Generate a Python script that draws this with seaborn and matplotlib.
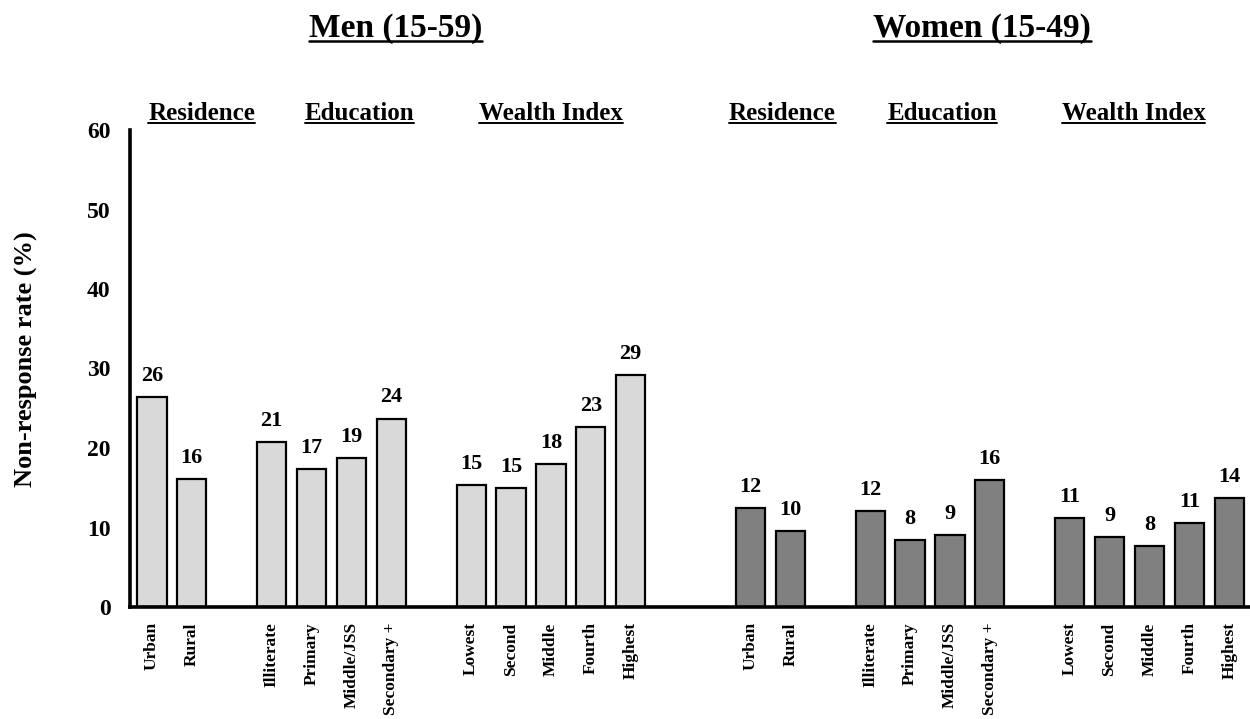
"""Non-response rate by background characteristics, men vs women."""

import matplotlib

matplotlib.use("Agg")
import matplotlib.pyplot as plt
from matplotlib.lines import Line2D
import pandas as pd
import seaborn as sns

# ---- data -------------------------------------------------------------
sexes = ["Men (15-59)", "Women (15-49)"]
groups = ["Residence", "Education", "Wealth Index"]
group_categories = [
    ["Urban", "Rural"],
    ["Illiterate", "Primary", "Middle/JSS", "Secondary +"],
    ["Lowest", "Second", "Middle", "Fourth", "Highest"],
]
men_rates = [26.4, 16.1, 20.7, 17.3, 18.7, 23.7, 15.3, 15.0, 18.0, 22.6, 29.2]
women_rates = [12.4, 9.6, 12.1, 8.4, 9.1, 16.0, 11.2, 8.8, 7.7, 10.6, 13.7]

bar_colors = {"Men (15-59)": "#d9d9d9", "Women (15-49)": "#808080"}

# slot layout: one empty slot between groups, two between sexes
rows = []
slot = 0
for sex, rates in zip(sexes, [men_rates, women_rates]):
    i = 0
    for grp, cats in zip(groups, group_categories):
        for cat in cats:
            rows.append({"sex": sex, "group": grp, "category": cat,
                         "rate": rates[i], "slot": slot})
            i += 1
            slot += 1
        slot += 1
    slot += 1
df = pd.DataFrame(rows)

# ---- style ------------------------------------------------------------
sns.set_theme(style="white")
plt.rcParams["font.family"] = ["Liberation Serif", "DejaVu Serif"]
plt.rcParams["font.weight"] = "bold"
for key in ["text.color", "axes.labelcolor", "xtick.color", "ytick.color"]:
    plt.rcParams[key] = "black"

W, H = 1250, 719
fig = plt.figure(figsize=(W / 100, H / 100), dpi=100)
ax = fig.add_axes([130 / W, 1 - 607 / H, (W - 130) / W, 477 / H])

sns.barplot(
    data=df, x="slot", y="rate", hue="sex", palette=bar_colors,
    native_scale=True, dodge=False, width=0.73, errorbar=None,
    saturation=1, edgecolor="black", linewidth=1.6, legend=False, ax=ax,
)

for cont in ax.containers:
    ax.bar_label(cont, fmt="%.0f", padding=8, fontsize=16, fontweight="bold",
                 color="black")

ax.set_xlim(-0.55, 27.52)
ax.set_ylim(0, 60)
ax.set_yticks(range(0, 61, 10))
ax.set_xticks(df["slot"])
ax.set_xticklabels(df["category"], rotation=90, fontsize=12.5, fontweight="bold")
ax.tick_params(axis="y", length=0, pad=14, labelsize=17)
ax.tick_params(axis="x", length=0, pad=11)
for lab in ax.get_yticklabels():
    lab.set_fontweight("bold")
ax.set_xlabel("")
ax.set_ylabel("")
for side in ["top", "right"]:
    ax.spines[side].set_visible(False)
for side in ["left", "bottom"]:
    ax.spines[side].set_linewidth(2.6)
    ax.spines[side].set_color("black")

fig.text(26 / W, 0.5, "Non-response rate (%)", rotation=90, ha="center",
         va="center", fontsize=19, fontweight="bold")

# headings (x placed by slot, y in figure pixels)
header_tf = matplotlib.transforms.blended_transform_factory(ax.transData, fig.transFigure)
title_slots = [6.1, 20.8]
header_slots = [1.25, 5.2, 10.0, 15.8, 19.8, 24.6]
underlined = []
for s, name in zip(title_slots, sexes):
    t = ax.text(s, 1 - 37 / H, name, transform=header_tf, ha="center",
                va="baseline", fontsize=24, fontweight="bold")
    underlined.append((t, 37, 3.5, 1.8))
for s, name in zip(header_slots, groups * 2):
    t = ax.text(s, 1 - 120 / H, name, transform=header_tf, ha="center",
                va="baseline", fontsize=18, fontweight="bold")
    underlined.append((t, 120, 3.0, 1.4))

fig.canvas.draw()
renderer = fig.canvas.get_renderer()
for t, base_px, gap, lw in underlined:
    bb = t.get_window_extent(renderer)
    y = H - base_px - gap
    fig.add_artist(Line2D([bb.x0 / W, bb.x1 / W], [y / H, y / H],
                          transform=fig.transFigure, color="black", linewidth=lw))

fig.savefig("out.png", dpi=100)
